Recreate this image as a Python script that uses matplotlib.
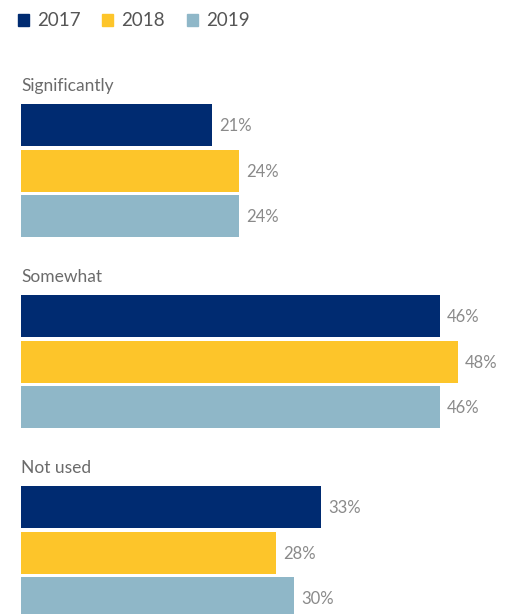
import matplotlib
matplotlib.use('Agg')
import matplotlib.pyplot as plt
from matplotlib.patches import Rectangle

# Data
categories = ['Significantly', 'Somewhat', 'Not used']
years = ['2017', '2018', '2019']
values_2017 = [21, 46, 33]
values_2018 = [24, 48, 28]
values_2019 = [24, 46, 30]

colors = ['#002B71', '#FDC52A', '#8FB7C8']
label_color = '#6B6B6B'
pct_color = '#8A8A8A'
plt.rcParams['font.family'] = ['Lato', 'DejaVu Sans']

W, H = 514, 614
fig = plt.figure(figsize=(W / 100, H / 100), dpi=100)
ax = fig.add_axes([0, 0, 1, 1])

px_per_pct = 9.1
x0 = 21
ax.set_xlim(-x0 / px_per_pct, (W - x0) / px_per_pct)
ax.set_ylim(H, 0)
ax.axis('off')

series = [values_2017, values_2018, values_2019]
group_step = 191
bar_step = 45.7
bar_h = 42
first_center = 125

for g, cat in enumerate(categories):
    base = first_center + g * group_step
    ax.text(0, base - 39, cat, fontsize=12.5, color=label_color,
            ha='left', va='center')
    for i, vals in enumerate(series):
        yc = base + i * bar_step
        ax.barh(yc, vals[g], height=bar_h, left=0, color=colors[i])
        ax.text(vals[g] + 7 / px_per_pct, yc + 1, f'{vals[g]}%', fontsize=12,
                color=pct_color, ha='left', va='center')

# Legend drawn by hand
leg_x = [18, 102, 187]
for i, yr in enumerate(years):
    xs = (leg_x[i] - x0) / px_per_pct
    ax.add_patch(Rectangle((xs, 14), 11 / px_per_pct, 12, color=colors[i],
                           clip_on=False))
    ax.text(xs + 19 / px_per_pct, 20, yr, fontsize=13.5, color='#555555',
            ha='left', va='center')

fig.savefig('out.png', dpi=100)
